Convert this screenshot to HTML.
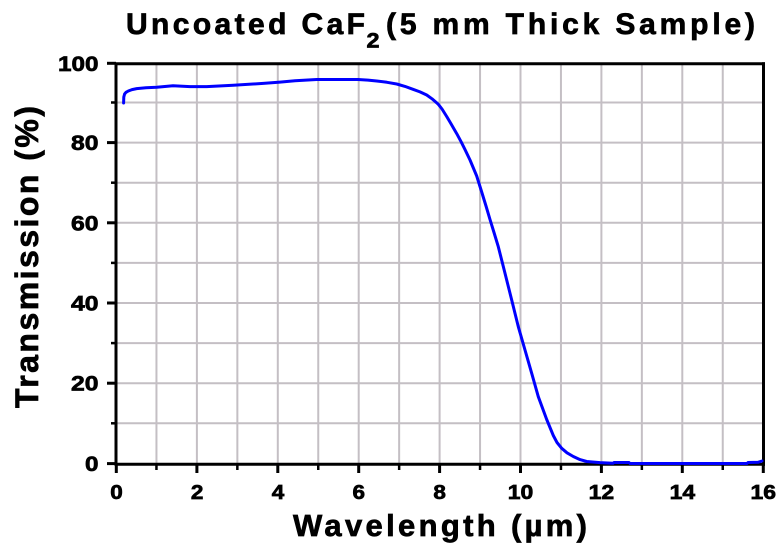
<!DOCTYPE html>
<html>
<head>
<meta charset="utf-8">
<style>
  html,body{margin:0;padding:0;background:#fff;}
  svg{display:block;}
  text{font-family:"Liberation Sans",Arial,sans-serif;font-weight:bold;fill:#000;stroke:#000;stroke-width:0.7px;}
</style>
</head>
<body>
<svg width="780" height="549" viewBox="0 0 780 549" xmlns="http://www.w3.org/2000/svg">
  <rect x="0" y="0" width="780" height="549" fill="#fff"/>

  <!-- grid -->
  <g stroke="#c4bfc4" stroke-width="2">
    <line x1="156.45" y1="64" x2="156.45" y2="464"/>
    <line x1="196.9" y1="64" x2="196.9" y2="464"/>
    <line x1="237.35" y1="64" x2="237.35" y2="464"/>
    <line x1="277.8" y1="64" x2="277.8" y2="464"/>
    <line x1="318.25" y1="64" x2="318.25" y2="464"/>
    <line x1="358.7" y1="64" x2="358.7" y2="464"/>
    <line x1="399.15" y1="64" x2="399.15" y2="464"/>
    <line x1="439.6" y1="64" x2="439.6" y2="464"/>
    <line x1="480.05" y1="64" x2="480.05" y2="464"/>
    <line x1="520.5" y1="64" x2="520.5" y2="464"/>
    <line x1="560.95" y1="64" x2="560.95" y2="464"/>
    <line x1="601.4" y1="64" x2="601.4" y2="464"/>
    <line x1="641.85" y1="64" x2="641.85" y2="464"/>
    <line x1="682.3" y1="64" x2="682.3" y2="464"/>
    <line x1="722.75" y1="64" x2="722.75" y2="464"/>

    <line x1="116" y1="423.3" x2="763" y2="423.3"/>
    <line x1="116" y1="383.2" x2="763" y2="383.2"/>
    <line x1="116" y1="343.1" x2="763" y2="343.1"/>
    <line x1="116" y1="303.0" x2="763" y2="303.0"/>
    <line x1="116" y1="262.9" x2="763" y2="262.9"/>
    <line x1="116" y1="222.8" x2="763" y2="222.8"/>
    <line x1="116" y1="182.7" x2="763" y2="182.7"/>
    <line x1="116" y1="142.6" x2="763" y2="142.6"/>
    <line x1="116" y1="102.5" x2="763" y2="102.5"/>
  </g>

  <!-- axes frame -->
  <g stroke="#000" stroke-width="3" fill="none">
    <line x1="116" y1="62.5" x2="116" y2="465.7"/>
    <line x1="114.5" y1="464.2" x2="765" y2="464.2"/>
    <line x1="114.5" y1="63.8" x2="765" y2="63.8"/>
    <line x1="763.5" y1="62.3" x2="763.5" y2="465.7"/>
  </g>

  <!-- y ticks -->
  <g stroke="#000" stroke-width="3">
    <line x1="107" y1="463.6" x2="116" y2="463.6"/>
    <line x1="107" y1="383.2" x2="116" y2="383.2"/>
    <line x1="107" y1="303.0" x2="116" y2="303.0"/>
    <line x1="107" y1="222.8" x2="116" y2="222.8"/>
    <line x1="107" y1="142.6" x2="116" y2="142.6"/>
    <line x1="107" y1="63.3" x2="116" y2="63.3"/>
  </g>
  <g stroke="#000" stroke-width="2.5">
    <line x1="111" y1="423.3" x2="116" y2="423.3"/>
    <line x1="111" y1="343.1" x2="116" y2="343.1"/>
    <line x1="111" y1="262.9" x2="116" y2="262.9"/>
    <line x1="111" y1="182.7" x2="116" y2="182.7"/>
    <line x1="111" y1="102.5" x2="116" y2="102.5"/>
  </g>

  <!-- x ticks -->
  <g stroke="#000" stroke-width="3">
    <line x1="116.3" y1="464" x2="116.3" y2="473"/>
    <line x1="196.9" y1="464" x2="196.9" y2="473"/>
    <line x1="277.8" y1="464" x2="277.8" y2="473"/>
    <line x1="358.7" y1="464" x2="358.7" y2="473"/>
    <line x1="439.6" y1="464" x2="439.6" y2="473"/>
    <line x1="520.5" y1="464" x2="520.5" y2="473"/>
    <line x1="601.4" y1="464" x2="601.4" y2="473"/>
    <line x1="682.3" y1="464" x2="682.3" y2="473"/>
    <line x1="763.3" y1="464" x2="763.3" y2="473"/>
  </g>
  <g stroke="#000" stroke-width="2.5">
    <line x1="156.45" y1="464" x2="156.45" y2="470"/>
    <line x1="237.35" y1="464" x2="237.35" y2="470"/>
    <line x1="318.25" y1="464" x2="318.25" y2="470"/>
    <line x1="399.15" y1="464" x2="399.15" y2="470"/>
    <line x1="480.05" y1="464" x2="480.05" y2="470"/>
    <line x1="560.95" y1="464" x2="560.95" y2="470"/>
    <line x1="641.85" y1="464" x2="641.85" y2="470"/>
    <line x1="722.75" y1="464" x2="722.75" y2="470"/>
  </g>

  <!-- y tick labels -->
  <g font-size="21">
    <text x="85" y="471" textLength="13.5" lengthAdjust="spacingAndGlyphs">0</text>
    <text x="71" y="390.7" textLength="27.5" lengthAdjust="spacingAndGlyphs">20</text>
    <text x="71" y="310.5" textLength="27.5" lengthAdjust="spacingAndGlyphs">40</text>
    <text x="71" y="230.3" textLength="27.5" lengthAdjust="spacingAndGlyphs">60</text>
    <text x="71" y="150.1" textLength="27.5" lengthAdjust="spacingAndGlyphs">80</text>
    <text x="58" y="70.8" textLength="40.5" lengthAdjust="spacingAndGlyphs">100</text>
  </g>

  <!-- x tick labels -->
  <g font-size="20">
    <text x="110.3" y="499" textLength="12.5" lengthAdjust="spacingAndGlyphs">0</text>
    <text x="190.9" y="499" textLength="12.5" lengthAdjust="spacingAndGlyphs">2</text>
    <text x="271.8" y="499" textLength="12.5" lengthAdjust="spacingAndGlyphs">4</text>
    <text x="352.5" y="499" textLength="12.5" lengthAdjust="spacingAndGlyphs">6</text>
    <text x="433.4" y="499" textLength="12.5" lengthAdjust="spacingAndGlyphs">8</text>
    <text x="507.8" y="499" textLength="25.5" lengthAdjust="spacingAndGlyphs">10</text>
    <text x="588.7" y="499" textLength="25.5" lengthAdjust="spacingAndGlyphs">12</text>
    <text x="669.6" y="499" textLength="25.5" lengthAdjust="spacingAndGlyphs">14</text>
    <text x="750.5" y="499" textLength="25.5" lengthAdjust="spacingAndGlyphs">16</text>
  </g>

  <!-- curve -->
  <path fill="none" stroke="#0000ff" stroke-width="3" stroke-linejoin="round" stroke-linecap="round"
    d="M123.6,103 L123.8,97 L124.6,94 L126,92.3 L128.3,91 L132,89.6 L136.7,88.6 L146,87.8 L156.7,87.3 L173,85.8 L190,86.6 L206.7,86.6 L233.3,85.3 L263.3,83.4 L280,82.1 L295,80.8 L316.7,79.5 L358,79.5 L368,80.1 L376.7,81 L387,82.3 L396.7,84 L405,86.4 L413,89.3 L420,91.9 L426.7,95 L432,98.8 L438.3,104.3 L442,109 L446.7,116.5 L451,123.8 L456.7,133.6 L461,141.6 L465,149.6 L470,160 L476.7,176 L481.7,192 L486,206 L490,219.5 L494,232.5 L498.3,246.7 L505,273.3 L511.7,300 L518.3,326.7 L525,350 L531.7,373.3 L538.3,396.7 L546.7,419.5 L553.3,435.5 L557,442.5 L561.7,448.3 L567,452.8 L573.3,456.5 L580,459.6 L586.7,461.5 L600,462.6 L613,463.3 L614,462.5 L629,462.5 L630,463.5 L747,463.5 L748,462.5 L758,462.3 L762,461"/>

  <!-- title -->
  <text x="126" y="34" font-size="30" textLength="239" lengthAdjust="spacing">Uncoated CaF</text>
  <text x="366.5" y="47.5" font-size="21" textLength="13" lengthAdjust="spacingAndGlyphs">2</text>
  <text x="386" y="34" font-size="30" textLength="369" lengthAdjust="spacing">(5 mm Thick Sample)</text>

  <!-- x label -->
  <text x="293" y="536" font-size="31" textLength="294" lengthAdjust="spacing">Wavelength (µm)</text>

  <!-- y label -->
  <text transform="translate(38,408) rotate(-90)" x="0" y="0" font-size="32" textLength="302" lengthAdjust="spacing">Transmission (%)</text>
</svg>
</body>
</html>
